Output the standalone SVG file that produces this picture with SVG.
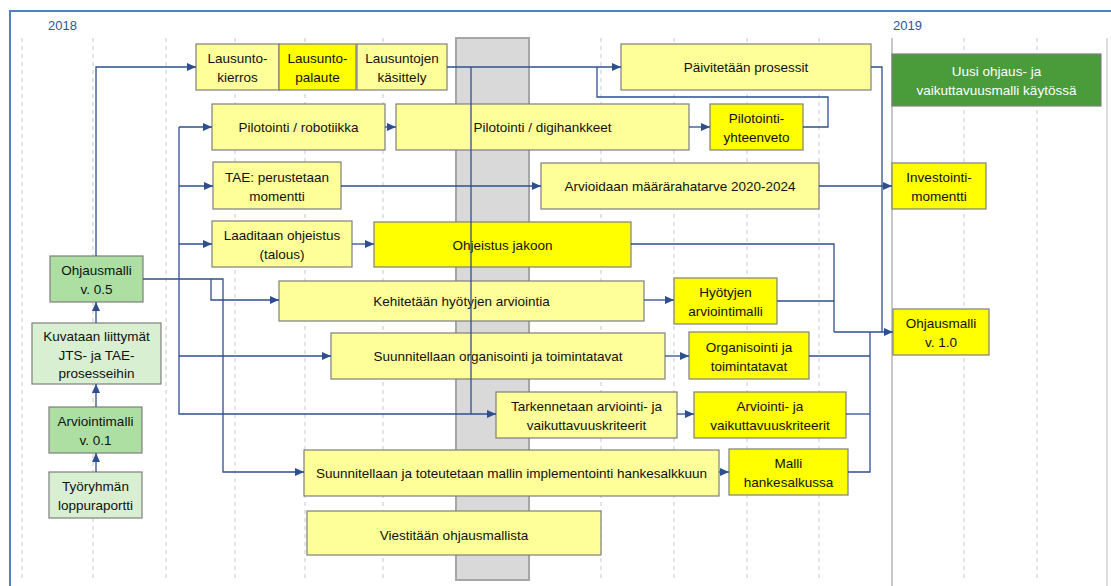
<svg xmlns="http://www.w3.org/2000/svg" width="1111" height="586" viewBox="0 0 1111 586">
<style>
.grid{stroke:#c8c8c8;stroke-width:1;stroke-dasharray:4 4;fill:none}
.yr{font-family:"Liberation Sans",Arial,sans-serif;font-size:13px;fill:#2f5597}
.t{font-family:"Liberation Sans",Arial,sans-serif;font-size:13.5px;fill:#111;text-anchor:middle}
.tw{font-family:"Liberation Sans",Arial,sans-serif;font-size:13.5px;fill:#fff;text-anchor:middle}
.ly{fill:#ffff99;stroke:#7f7f7f;stroke-width:1.2}
.by{fill:#ffff00;stroke:#7f7f7f;stroke-width:1.2}
.mg{fill:#addfa3;stroke:#7f7f7f;stroke-width:1.2}
.pg{fill:#d8efd2;stroke:#7f7f7f;stroke-width:1.2}
.dg{fill:#4a9b3a;stroke:#7f7f7f;stroke-width:1.2}
.c{fill:none;stroke:#2e4f8f;stroke-width:1.3}
.ca{fill:none;stroke:#2e4f8f;stroke-width:1.3;marker-end:url(#ah)}
</style>
<defs>
<marker id="ah" markerUnits="userSpaceOnUse" markerWidth="10" markerHeight="10" refX="9" refY="4" orient="auto">
<path d="M0,0 L9,4 L0,8 Z" fill="#2e4f8f"/>
</marker>
</defs>
<rect x="0" y="0" width="1111" height="586" fill="#ffffff"/>
<g id="background">
<path d="M10,586 V11 H1111" fill="none" stroke="#4f81bd" stroke-width="2"/>
<text class="yr" x="48" y="30">2018</text>
<text class="yr" x="893" y="30">2019</text>
<g class="grid">
<line x1="22" y1="38" x2="22" y2="578"/>
<line x1="93" y1="38" x2="93" y2="578"/>
<line x1="166" y1="38" x2="166" y2="578"/>
<line x1="235" y1="38" x2="235" y2="578"/>
<line x1="305" y1="38" x2="305" y2="578"/>
<line x1="383" y1="38" x2="383" y2="578"/>
<line x1="601" y1="38" x2="601" y2="578"/>
<line x1="674" y1="38" x2="674" y2="578"/>
<line x1="747" y1="38" x2="747" y2="578"/>
<line x1="819" y1="38" x2="819" y2="578"/>
<line x1="964" y1="38" x2="964" y2="578"/>
<line x1="1037" y1="38" x2="1037" y2="578"/>
</g>
<line x1="892" y1="38" x2="892" y2="586" stroke="#c8c8c8" stroke-width="2"/>
<line x1="1107" y1="38" x2="1107" y2="586" stroke="#d0d0d0" stroke-width="1.5"/>
<rect x="456" y="38" width="73" height="542" fill="#d9d9d9" stroke="#a6a6a6" stroke-width="2"/>
</g>
<g id="n-lausuntokierros"><rect class="ly" x="196" y="44" width="83" height="46"/><text class="t" x="237.5" y="63">Lausunto-</text><text class="t" x="237.5" y="82">kierros</text></g>
<g id="n-lausuntopalaute"><rect class="by" x="279" y="44" width="77" height="46"/><text class="t" x="317.5" y="63">Lausunto-</text><text class="t" x="317.5" y="82">palaute</text></g>
<g id="n-lausuntojen"><rect class="ly" x="357" y="44" width="90" height="46"/><text class="t" x="402" y="63">Lausuntojen</text><text class="t" x="402" y="82">käsittely</text></g>
<g id="n-paivitetaan"><rect class="ly" x="621" y="44" width="250" height="46"/><text class="t" x="746" y="72">Päivitetään prosessit</text></g>
<g id="n-uusi"><rect class="dg" x="892" y="54" width="209" height="52"/><text class="tw" x="996.5" y="75.5">Uusi ohjaus- ja</text><text class="tw" x="996.5" y="95">vaikuttavuusmalli käytössä</text></g>
<g id="n-robotiikka"><rect class="ly" x="212" y="104" width="173" height="46"/><text class="t" x="298.5" y="132">Pilotointi / robotiikka</text></g>
<g id="n-digihankkeet"><rect class="ly" x="396" y="104" width="293" height="46"/><text class="t" x="542.5" y="132">Pilotointi / digihankkeet</text></g>
<g id="n-yhteenveto"><rect class="by" x="710" y="104" width="93" height="46"/><text class="t" x="756.5" y="122.5">Pilotointi-</text><text class="t" x="756.5" y="141.5">yhteenveto</text></g>
<g id="n-tae"><rect class="ly" x="213" y="162" width="128" height="47"/><text class="t" x="277" y="181.5">TAE: perustetaan</text><text class="t" x="277" y="200.5">momentti</text></g>
<g id="n-arvioidaan"><rect class="ly" x="541" y="163" width="278" height="46"/><text class="t" x="680" y="191">Arvioidaan määrärahatarve 2020-2024</text></g>
<g id="n-investointi"><rect class="by" x="892" y="163" width="94" height="46"/><text class="t" x="939" y="182">Investointi-</text><text class="t" x="939" y="201">momentti</text></g>
<g id="n-laaditaan"><rect class="ly" x="212" y="221" width="140" height="46"/><text class="t" x="282" y="240">Laaditaan ohjeistus</text><text class="t" x="282" y="259">(talous)</text></g>
<g id="n-ohjeistus"><rect class="by" x="374" y="222" width="257" height="45"/><text class="t" x="502.5" y="249.5">Ohjeistus jakoon</text></g>
<g id="n-ohjausmalli05"><rect class="mg" x="50" y="256" width="93" height="46"/><text class="t" x="96.5" y="275">Ohjausmalli</text><text class="t" x="96.5" y="294">v. 0.5</text></g>
<g id="n-kehitetaan"><rect class="ly" x="279" y="281" width="365" height="40"/><text class="t" x="461.5" y="306">Kehitetään hyötyjen arviointia</text></g>
<g id="n-hyotyjen"><rect class="by" x="674" y="278" width="103" height="46"/><text class="t" x="725.5" y="297">Hyötyjen</text><text class="t" x="725.5" y="316">arviointimalli</text></g>
<g id="n-kuvataan"><rect class="pg" x="32" y="323" width="129" height="61"/><text class="t" x="96.5" y="341">Kuvataan liittymät</text><text class="t" x="96.5" y="359.5">JTS- ja TAE-</text><text class="t" x="96.5" y="378">prosesseihin</text></g>
<g id="n-suunnitellaan-org"><rect class="ly" x="331" y="333" width="334" height="46"/><text class="t" x="498" y="361">Suunnitellaan organisointi ja toimintatavat</text></g>
<g id="n-organisointi"><rect class="by" x="689" y="332" width="120" height="47"/><text class="t" x="749" y="351.5">Organisointi ja</text><text class="t" x="749" y="370.5">toimintatavat</text></g>
<g id="n-arviointimalli01"><rect class="mg" x="49" y="407" width="93" height="46"/><text class="t" x="95.5" y="426">Arviointimalli</text><text class="t" x="95.5" y="445">v. 0.1</text></g>
<g id="n-tarkennetaan"><rect class="ly" x="496" y="392" width="181" height="46"/><text class="t" x="586.5" y="411">Tarkennetaan arviointi- ja</text><text class="t" x="586.5" y="430">vaikuttavuuskriteerit</text></g>
<g id="n-kriteerit"><rect class="by" x="694" y="392" width="152" height="46"/><text class="t" x="770" y="411">Arviointi- ja</text><text class="t" x="770" y="430">vaikuttavuuskriteerit</text></g>
<g id="n-tyoryhman"><rect class="pg" x="49" y="472" width="93" height="46"/><text class="t" x="95.5" y="491">Työryhmän</text><text class="t" x="95.5" y="510">loppuraportti</text></g>
<g id="n-implementointi"><rect class="ly" x="304" y="450" width="415" height="46"/><text class="t" x="511.5" y="477.5">Suunnitellaan ja toteutetaan mallin implementointi hankesalkkuun</text></g>
<g id="n-malli"><rect class="by" x="729" y="449" width="119" height="46"/><text class="t" x="788.5" y="468">Malli</text><text class="t" x="788.5" y="487">hankesalkussa</text></g>
<g id="n-viestitaan"><rect class="ly" x="307" y="511" width="294" height="44"/><text class="t" x="454" y="539.5">Viestitään ohjausmallista</text></g>
<g id="n-ohjausmalli10"><rect class="by" x="893" y="309" width="96" height="46"/><text class="t" x="941" y="328">Ohjausmalli</text><text class="t" x="941" y="347">v. 1.0</text></g>
<g id="connectors">
<path class="ca" d="M96,256 V67 H196"/>
<path class="ca" d="M447,67 H621"/>
<path class="c" d="M471,67 V414"/>
<path class="c" d="M803,127 H828 V97 H597 V67"/>
<path class="c" d="M871,67 H882 V332"/>
<path class="c" d="M631,244 H834 V332"/>
<path class="c" d="M777,301 H834"/>
<path class="c" d="M809,356 H870"/>
<path class="c" d="M846,414 H870"/>
<path class="c" d="M848,472 H870 V332"/>
<path class="ca" d="M834,332 H893"/>
<path class="ca" d="M385,127 H396"/>
<path class="ca" d="M689,127 H710"/>
<path class="ca" d="M341,186 H541"/>
<path class="ca" d="M819,186 H892"/>
<path class="ca" d="M352,244 H374"/>
<path class="ca" d="M644,300 H674"/>
<path class="ca" d="M665,356 H689"/>
<path class="ca" d="M677,414 H694"/>
<path class="ca" d="M719,472 H729"/>
<path class="ca" d="M143,279 H223 V472 H304"/>
<path class="ca" d="M211,279 V300 H279"/>
<path class="ca" d="M179,127 V414 H496"/>
<path class="ca" d="M179,127 H212"/>
<path class="ca" d="M179,186 H213"/>
<path class="ca" d="M179,244 H212"/>
<path class="ca" d="M179,356 H331"/>
<path class="ca" d="M96,323 V302"/>
<path class="ca" d="M96,407 V384"/>
<path class="ca" d="M96,472 V453"/>
</g>
</svg>
